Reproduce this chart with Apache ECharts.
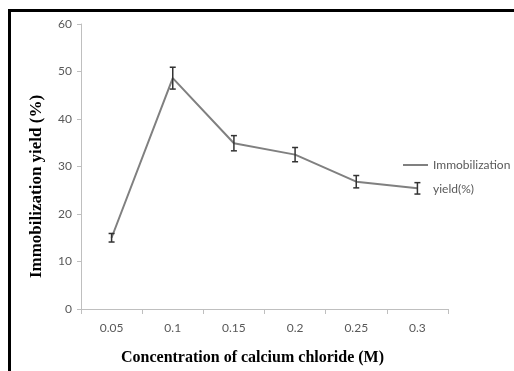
<!DOCTYPE html>
<html>
<head>
<meta charset="utf-8">
<style>
  html, body { margin: 0; padding: 0; background: #fff; }
  #chart { width: 514px; height: 371px; }
</style>
<script src="https://cdn.jsdelivr.net/npm/echarts@6/dist/echarts.min.js"></script>
</head>
<body>
<div id="chart"></div>
<script>
  // concentration of CaCl2 (M)
  const concentrations = ['0.05', '0.1', '0.15', '0.2', '0.25', '0.3'];
  // immobilization yield (%)
  const yieldValues = [15, 48.6, 34.9, 32.5, 26.8, 25.4];
  // error bar half-heights
  const yieldErrors = [0.9, 2.3, 1.6, 1.5, 1.3, 1.2];
  const yTicks = [0, 60, 10]; // min, max, step

  const chart = echarts.init(document.getElementById('chart'));

  const errData = concentrations.map((c, i) => [i, yieldValues[i] - yieldErrors[i], yieldValues[i] + yieldErrors[i]]);

  const option = {
    backgroundColor: '#fff',
    animation: false,
    grid: { left: 81, right: 66, top: 24, bottom: 61 },
    legend: {
      show: true,
      left: 403,
      top: 129,
      padding: 0,
      itemWidth: 25,
      itemHeight: 2,
      icon: 'rect',
      data: [{ name: 'Immobilization yield(%)', itemStyle: { color: '#808080' } }],
      // blank first line so the icon sits next to the first text line
      formatter: function () { return ' \nImmobilization\nyield(%)'; },
      textStyle: {
        color: '#595959',
        fontFamily: 'Lato',
        fontSize: 12,
        lineHeight: 24
      }
    },
    xAxis: {
      type: 'category',
      data: concentrations,
      boundaryGap: true,
      name: 'Concentration of calcium chloride (M)',
      nameLocation: 'middle',
      nameGap: 41,
      nameTextStyle: {
        fontFamily: 'Liberation Serif',
        fontWeight: 'bold',
        fontSize: 16,
        color: '#000',
        padding: [0, 24, 0, 0]
      },
      axisLine: { lineStyle: { color: '#bfbfbf', width: 1 } },
      axisTick: { show: true, interval: 0, length: 5, lineStyle: { color: '#bfbfbf' } },
      axisLabel: { color: '#595959', fontFamily: 'Lato', fontSize: 12, margin: 13 },
      splitLine: { show: false }
    },
    yAxis: {
      type: 'value',
      min: yTicks[0],
      max: yTicks[1],
      interval: yTicks[2],
      name: 'Immobilization yield (%)',
      nameLocation: 'middle',
      nameGap: 36,
      nameTextStyle: {
        fontFamily: 'Liberation Serif',
        fontWeight: 'bold',
        fontSize: 17,
        color: '#000',
        padding: [0, 40, 0, 0]
      },
      axisLine: { show: true, lineStyle: { color: '#bfbfbf', width: 1 } },
      axisTick: { show: true, length: 4, lineStyle: { color: '#bfbfbf' } },
      axisLabel: { color: '#595959', fontFamily: 'Lato', fontSize: 12, margin: 9 },
      splitLine: { show: false }
    },
    series: [
      {
        name: 'Immobilization yield(%)',
        type: 'line',
        data: yieldValues,
        symbol: 'none',
        lineStyle: { color: '#808080', width: 2 },
        itemStyle: { color: '#808080' },
        z: 2
      },
      {
        name: 'err',
        type: 'custom',
        data: errData,
        z: 3,
        renderItem: function (params, api) {
          const x = api.value(0);
          const lo = api.coord([x, api.value(1)]);
          const hi = api.coord([x, api.value(2)]);
          const cap = 3;
          const style = { stroke: '#333', lineWidth: 1.5 };
          return {
            type: 'group',
            children: [
              { type: 'line', shape: { x1: lo[0], y1: lo[1], x2: hi[0], y2: hi[1] }, style: style },
              { type: 'line', shape: { x1: lo[0] - cap, y1: lo[1], x2: lo[0] + cap, y2: lo[1] }, style: style },
              { type: 'line', shape: { x1: hi[0] - cap, y1: hi[1], x2: hi[0] + cap, y2: hi[1] }, style: style }
            ]
          };
        }
      }
    ],
    graphic: [
      { type: 'rect', shape: { x: 8, y: 9, width: 506, height: 3 }, style: { fill: '#000' } },
      { type: 'rect', shape: { x: 8, y: 9, width: 3, height: 362 }, style: { fill: '#000' } }
    ]
  };

  chart.setOption(option);
</script>
</body>
</html>
